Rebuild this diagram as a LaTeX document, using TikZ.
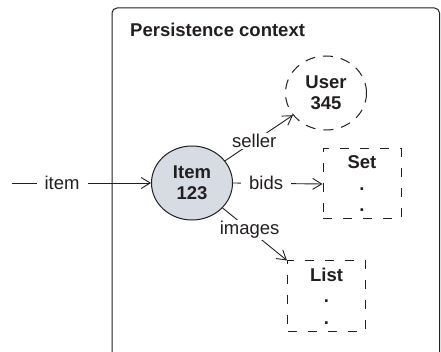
\documentclass[tikz,border=0pt]{standalone}
\usepackage{fontspec}
\setmainfont{Liberation Sans}
\usetikzlibrary{arrows.meta,shapes.geometric}
\definecolor{itemfill}{RGB}{214,219,228}
\definecolor{ink}{RGB}{35,31,32}
\begin{document}
\begin{tikzpicture}[x=1pt,y=-1pt,
  txt/.style={font=\fontsize{18.5}{21}\selectfont, text=ink},
  obj/.style={ellipse, draw=ink, line width=1pt, minimum width=81pt, minimum height=74pt,
    inner sep=0pt, align=center, font=\fontsize{18.5}{21}\selectfont\bfseries, text=ink},
  coll/.style={draw=ink, line width=1pt, dash pattern=on 9pt off 11pt, minimum width=78pt,
    minimum height=70pt, inner sep=0pt, align=center,
    font=\fontsize{18.5}{21.5}\selectfont\bfseries, text=ink},
  ref/.style={draw=ink, line width=0.9pt, -{Straight Barb[length=9pt,width=11pt]}},
  lbl/.style={txt, fill=white, inner xsep=8pt, inner ysep=1pt}
]
\useasboundingbox (0,0) rectangle (441,352);
\clip (0,0) rectangle (441,352);
\fill[white] (0,0) rectangle (441,352);
% container
\draw[ink, line width=1pt, rounded corners=5pt] (112,8) rectangle (439.5,372);
\node[txt, font=\fontsize{18.5}{21}\selectfont\bfseries, anchor=base west, inner sep=0pt] (title) at (130,37) {Persistence context};
% objects
\node[obj, fill=itemfill] (item) at (192,183) {Item\\123};
\node[obj, dash pattern=on 10pt off 8pt] (user) at (326,93) {User\\345};
\node[coll] (set) at (362,184) {Set\\.\\.};
\node[coll] (list) at (326.5,296) {List\\.\\.};
\coordinate (start) at (12,183);
% references
\draw[ref] (start) -- node[lbl, pos=0.36] {item} (item.west);
\draw[ref] (item) -- node[lbl, pos=0.43] {seller} (user);
\draw[ref] (item.east) -- node[lbl, pos=0.37] {bids} (set.west);
\draw[ref] (item) -- node[lbl, pos=0.42] {images} (list.north west);
\end{tikzpicture}
\end{document}
